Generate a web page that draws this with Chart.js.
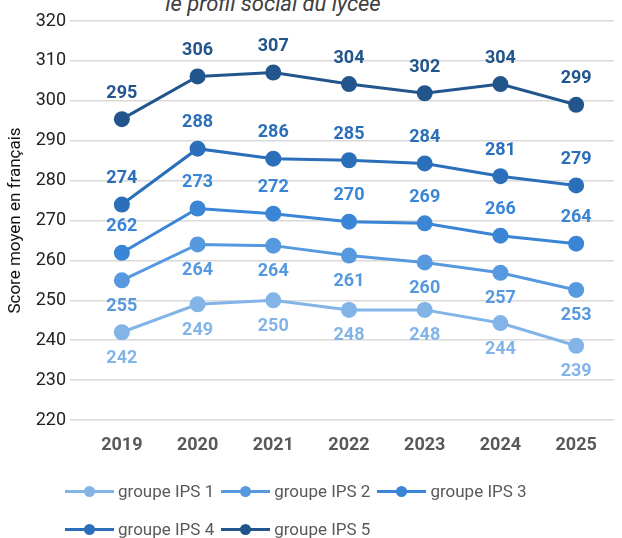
<!DOCTYPE html>
<html>
<head>
<meta charset="utf-8">
<script src="https://cdn.jsdelivr.net/npm/chart.js@4.4.1/dist/chart.umd.min.js"></script>
<style>
html,body{margin:0;padding:0;background:#fff;}
#wrap{position:relative;width:622px;height:538px;overflow:hidden;font-family:Roboto,sans-serif;}
#title{position:absolute;left:0;width:546px;top:-9px;text-align:center;font:italic 22px Roboto,sans-serif;color:#404040;line-height:26px;white-space:nowrap;}
#chartbox{position:absolute;left:0;top:0;width:622px;height:538px;}
#legend{position:absolute;left:65px;top:472px;width:490px;display:flex;flex-wrap:wrap;}
.item{display:flex;align-items:center;height:38px;margin-right:7px;}
.sw{position:relative;width:49px;height:38px;}
.sw .ln{position:absolute;left:0;right:0;top:50%;height:3px;margin-top:-1.5px;}
.sw .dot{position:absolute;left:50%;top:50%;width:11px;height:11px;margin:-5.5px 0 0 -5.5px;border-radius:50%;}
.txt{margin-left:4px;font:17px Roboto,sans-serif;color:#595959;white-space:nowrap;}
</style>
</head>
<body>
<div id="wrap">
  <div id="title">le profil social du lycée</div>
  <div id="chartbox"><canvas id="c"></canvas></div>
  <div id="legend"></div>
</div>
<script>
// ---- data ----
const years = ['2019', '2020', '2021', '2022', '2023', '2024', '2025'];
const seriesNames = ['groupe IPS 1', 'groupe IPS 2', 'groupe IPS 3', 'groupe IPS 4', 'groupe IPS 5'];
const ips1 = [242, 249, 250, 247.6, 247.6, 244.3, 238.6];
const ips2 = [255, 264, 263.7, 261.2, 259.5, 256.9, 252.6];
const ips3 = [261.9, 273, 271.7, 269.7, 269.3, 266.2, 264.2];
const ips4 = [274, 288, 285.5, 285.1, 284.3, 281.1, 278.8];
const ips5 = [295.4, 306.1, 307.1, 304.2, 301.9, 304.2, 299];
const yTicks = [220, 230, 240, 250, 260, 270, 280, 290, 300, 310, 320];
const yTitle = 'Score moyen en français';

// ---- styles ----
const colors = ['#82b4e8', '#5799de', '#3a85d5', '#2b6fba', '#22558c'];
const labelAbove = [false, false, true, true, true];
const allSeries = [ips1, ips2, ips3, ips4, ips5];

const datasets = allSeries.map((d, i) => ({
  label: seriesNames[i],
  data: d,
  borderColor: colors[i],
  backgroundColor: colors[i],
  pointBackgroundColor: colors[i],
  pointBorderWidth: 0,
  pointRadius: 8,
  pointHoverRadius: 8,
  borderWidth: 3,
  tension: 0,
  fill: false
}));

const valueLabels = {
  id: 'valueLabels',
  afterDatasetsDraw(chart) {
    const ctx = chart.ctx;
    chart.data.datasets.forEach((ds, i) => {
      const meta = chart.getDatasetMeta(i);
      ctx.save();
      ctx.font = 'bold 18px Roboto, sans-serif';
      ctx.fillStyle = ds.borderColor;
      ctx.textAlign = 'center';
      ctx.textBaseline = 'middle';
      meta.data.forEach((pt, j) => {
        const dy = labelAbove[i] ? -26 : 26;
        ctx.fillText(String(Math.round(ds.data[j])), pt.x, pt.y + dy);
      });
      ctx.restore();
    });
  }
};

new Chart(document.getElementById('c'), {
  type: 'line',
  data: { labels: years, datasets },
  options: {
    responsive: true,
    maintainAspectRatio: false,
    animation: false,
    layout: { padding: { top: 21, right: 0, bottom: 78, left: 0 } },
    plugins: { legend: { display: false }, tooltip: { enabled: false }, title: { display: false } },
    scales: {
      x: {
        offset: true,
        grid: { display: false, drawTicks: false },
        border: { display: false },
        ticks: { color: '#595959', font: { family: 'Roboto', size: 18, weight: 'bold' }, padding: 15, maxRotation: 0 },
        afterFit(s) { s.height = 40; }
      },
      y: {
        min: yTicks[0],
        max: yTicks[yTicks.length - 1],
        afterBuildTicks(s) { s.ticks = yTicks.map(v => ({ value: v })); },
        grid: { color: '#d9d9d9', lineWidth: 1.5, drawTicks: true, tickLength: 14, tickColor: '#d9d9d9', tickWidth: 1.5 },
        border: { display: false },
        ticks: { color: '#222222', font: { family: 'Roboto', size: 18 }, padding: 4 },
        title: { display: true, text: yTitle, color: '#111111', font: { family: 'Roboto', size: 17 }, padding: { top: 6, bottom: 0 } },
        afterFit(s) { s.width = 84; }
      }
    }
  },
  plugins: [valueLabels]
});

// HTML legend
const leg = document.getElementById('legend');
seriesNames.forEach((n, i) => {
  const it = document.createElement('div');
  it.className = 'item';
  it.innerHTML = '<span class="sw"><span class="ln" style="background:' + colors[i] + '"></span><span class="dot" style="background:' + colors[i] + '"></span></span><span class="txt"></span>';
  it.querySelector('.txt').textContent = n;
  leg.appendChild(it);
});
</script>
</body>
</html>
